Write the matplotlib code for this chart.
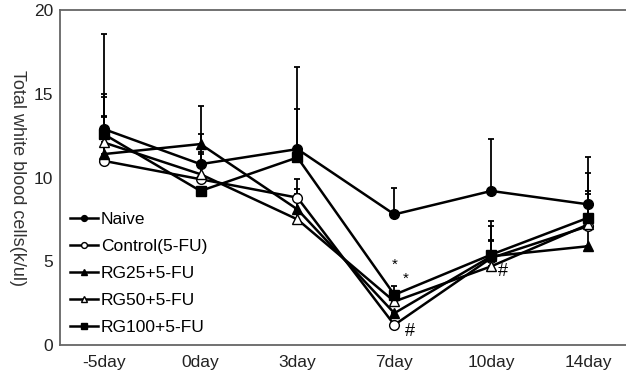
import matplotlib as mpl
mpl.use('Agg')
import matplotlib.pyplot as plt
import numpy as np

# data
days = ['-5day', '0day', '3day', '7day', '10day', '14day']
groups = ['Naive', 'Control(5-FU)', 'RG25+5-FU', 'RG50+5-FU', 'RG100+5-FU']

naive = [12.9, 10.8, 11.7, 7.8, 9.2, 8.4]
control = [11.0, 9.9, 8.8, 1.2, 5.2, 7.1]
rg25 = [11.4, 12.0, 8.1, 1.9, 5.3, 5.9]
rg50 = [12.1, 10.2, 7.5, 2.6, 4.7, 7.2]
rg100 = [12.6, 9.2, 11.2, 3.0, 5.4, 7.6]

naive_err = [5.7, 3.5, 4.9, 1.6, 3.1, 2.8]
control_err = [2.7, 1.5, 1.1, 0.0, 1.9, 2.1]
rg25_err = [2.2, 0.6, 1.2, 0.0, 1.0, 1.3]
rg50_err = [2.7, 1.3, 1.5, 0.0, 1.5, 1.8]
rg100_err = [2.4, 0.0, 2.9, 0.5, 2.0, 2.7]

# significance marks (day index, value, text)
marks = [(3.0, 4.8, '*'), (3.12, 3.95, '*'), (3.16, 0.8, '#'), (4.12, 4.4, '#')]

series = [naive, control, rg25, rg50, rg100]
errors = [naive_err, control_err, rg25_err, rg50_err, rg100_err]
styles = [('o', 'black', 7), ('o', 'white', 7), ('^', 'black', 7), ('^', 'white', 7), ('s', 'black', 7)]

plt.rcParams['font.family'] = ['Liberation Sans', 'DejaVu Sans']

fig = plt.figure(figsize=(6.26, 3.74), dpi=100)
ax = fig.add_axes([0.0958, 0.0775, 0.9042, 0.8955])

x = np.arange(len(days))
for vals, err, (mk, fc, ms), name in zip(series, errors, styles, groups):
    vals = np.array(vals)
    err = np.array(err)
    ax.errorbar(x, vals, yerr=[np.zeros_like(err), err], fmt='none',
                ecolor='black', elinewidth=1.3, capsize=2.5, capthick=1.3, zorder=2)
    ax.plot(x, vals, color='black', lw=1.8, marker=mk, markerfacecolor=fc,
            markeredgecolor='black', markersize=ms, label=name, zorder=3)

for xi, yi, t in marks:
    ax.text(xi, yi, t, fontsize=13 if t == '#' else 11, ha='center', va='center')

ax.set_xlim(-0.45, 5.39)
ax.set_ylim(0, 20)
ax.set_yticks([0, 5, 10, 15, 20])
ax.set_xticks(x)
ax.set_xticklabels(days)
ax.tick_params(axis='both', length=0, labelsize=12.5, colors='#222222', pad=7)
ax.tick_params(axis='y', pad=5)
for s in ['left', 'top', 'bottom']:
    ax.spines[s].set_color('#666666')
    ax.spines[s].set_linewidth(1.3)
ax.spines['right'].set_visible(False)

ax.set_ylabel('Total white blood cells(k/ul)', rotation=270, fontsize=13,
              color='#333333')
ax.yaxis.set_label_coords(-0.09, 0.50)

ax.legend(loc='lower left', bbox_to_anchor=(0.0, 0.0), frameon=False,
          fontsize=12.5, handlelength=1.6, handletextpad=0.15, markerscale=0.6,
          labelspacing=0.68, borderaxespad=0.2)

plt.savefig('out.png')
